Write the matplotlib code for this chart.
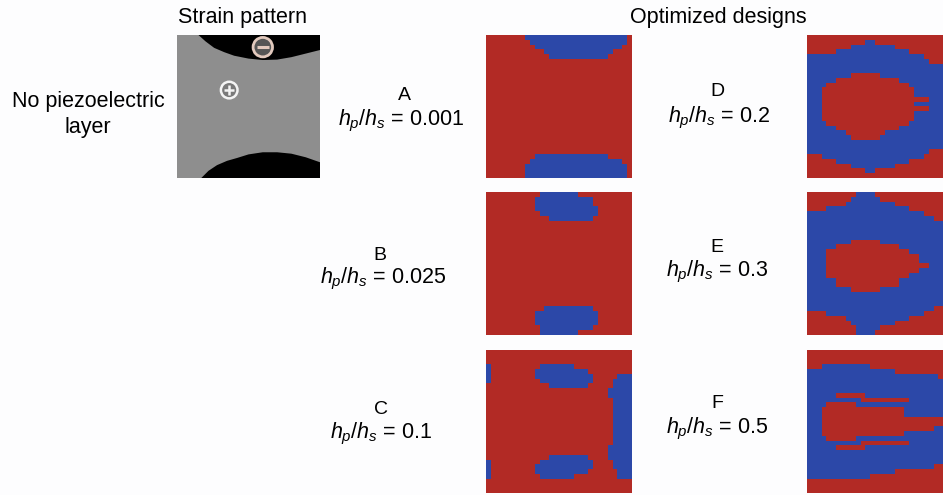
import numpy as np
import matplotlib
matplotlib.use("Agg")
import matplotlib.pyplot as plt
from matplotlib.colors import ListedColormap
from matplotlib.patches import Circle, Polygon

plt.rcParams["font.family"] = ["Liberation Sans", "DejaVu Sans"]
plt.rcParams["mathtext.fontset"] = "custom"
plt.rcParams["mathtext.rm"] = "Liberation Sans"
plt.rcParams["mathtext.it"] = "Liberation Sans:italic"

W, H = 943, 495
BG = "#fdfdfe"
RED = "#b22a25"
BLUE = "#2c48a8"
GREY = "#8e8e8e"

N_CELLS = 30

# Design labels and thickness ratios
letters = ["A", "B", "C", "D", "E", "F"]
ratios = ["0.001", "0.025", "0.1", "0.2", "0.3", "0.5"]

# Cell rectangles (row0, row1, col0, col1) painted blue, then red, over a red field
A_BLUE = [(0, 0, 8, 28), (1, 1, 9, 28), (2, 2, 10, 27), (3, 3, 12, 25), (4, 4, 13, 24),
          (25, 25, 10, 24), (26, 26, 9, 27), (27, 29, 8, 28)]
A_RED = []

B_BLUE = [(0, 0, 11, 18), (1, 2, 10, 21), (3, 3, 10, 22), (4, 4, 11, 22), (5, 5, 13, 21),
          (24, 24, 12, 21), (25, 27, 10, 22), (28, 28, 11, 21), (29, 29, 11, 18)]
B_RED = []

C_BLUE = [(3, 6, 0, 0), (23, 26, 0, 0),
          (3, 3, 11, 17), (4, 4, 10, 20), (5, 5, 10, 21), (6, 6, 11, 21), (7, 7, 13, 20),
          (22, 22, 13, 20), (23, 23, 11, 21), (24, 24, 10, 21), (25, 25, 10, 20), (26, 26, 11, 17),
          (5, 5, 27, 29), (6, 7, 26, 29), (8, 9, 25, 29), (10, 19, 26, 29),
          (20, 22, 25, 29), (23, 24, 26, 29), (25, 26, 27, 29)]
C_RED = []

D_BLUE = [(1, 1, 12, 13), (2, 2, 9, 17), (3, 3, 6, 20), (4, 4, 0, 23), (5, 5, 0, 24),
          (6, 23, 0, 29), (24, 24, 0, 24), (25, 25, 3, 23), (26, 26, 6, 20),
          (27, 27, 9, 17), (28, 28, 12, 13)]
D_RED = [(8, 8, 9, 14), (9, 9, 6, 18), (10, 10, 4, 20), (11, 12, 3, 21), (13, 13, 3, 24),
         (14, 14, 3, 21), (15, 15, 3, 24), (16, 17, 3, 21), (18, 18, 4, 20), (19, 19, 6, 18),
         (20, 20, 8, 15), (21, 21, 9, 14)]

E_BLUE = [(0, 0, 10, 13), (1, 1, 9, 14), (2, 2, 8, 17), (3, 3, 4, 20), (4, 4, 0, 23),
          (5, 5, 0, 25), (6, 23, 0, 29), (24, 24, 0, 25), (25, 25, 4, 23), (26, 26, 8, 20),
          (27, 27, 9, 17), (28, 28, 10, 14), (29, 29, 10, 13)]
E_RED = [(10, 10, 9, 14), (11, 11, 6, 18), (12, 12, 4, 20), (13, 14, 4, 22), (15, 15, 4, 24),
         (16, 16, 4, 22), (17, 17, 4, 20), (18, 19, 6, 18), (20, 20, 9, 14)]

F_BLUE = [(3, 3, 3, 12), (4, 4, 0, 17), (5, 5, 0, 26), (6, 23, 0, 29), (24, 24, 0, 25),
          (25, 25, 0, 17), (26, 26, 0, 12)]
F_RED = [(9, 9, 6, 11), (10, 10, 11, 20), (11, 11, 4, 9), (12, 13, 3, 19), (14, 15, 3, 27),
         (16, 16, 3, 25), (17, 17, 3, 19), (18, 18, 4, 9), (19, 19, 11, 20), (20, 20, 6, 11)]

designs = [(A_BLUE, A_RED), (B_BLUE, B_RED), (C_BLUE, C_RED),
           (D_BLUE, D_RED), (E_BLUE, E_RED), (F_BLUE, F_RED)]

# Strain-pattern boundaries (fraction of panel width / height, y downward)
top_dark_x = [0.15, 0.20, 0.26, 0.33, 0.40, 0.50, 0.60, 0.70, 0.80, 0.90, 1.00]
top_dark_y = [0.00, 0.045, 0.09, 0.12, 0.145, 0.165, 0.175, 0.172, 0.155, 0.13, 0.105]
bot_dark_x = [0.17, 0.22, 0.28, 0.35, 0.42, 0.50, 0.60, 0.70, 0.80, 0.90, 1.00]
bot_dark_y = [1.00, 0.95, 0.91, 0.88, 0.86, 0.835, 0.82, 0.82, 0.83, 0.855, 0.89]


def px_axes(fig, x0, y0, x1, y1):
    ax = fig.add_axes([x0 / W, 1 - y1 / H, (x1 - x0) / W, (y1 - y0) / H])
    ax.set_axis_off()
    return ax


def paint(blue_rects, red_rects):
    grid = np.zeros((N_CELLS, N_CELLS))
    for r0, r1, c0, c1 in blue_rects:
        grid[r0:r1 + 1, c0:c1 + 1] = 1
    for r0, r1, c0, c1 in red_rects:
        grid[r0:r1 + 1, c0:c1 + 1] = 0
    return grid


fig = plt.figure(figsize=(W / 100, H / 100), dpi=100, facecolor=BG)

# Headers and row label
fig.text(243 / W, 1 - 18 / H, "Strain pattern", ha="center", va="center", fontsize=15.5)
fig.text(718 / W, 1 - 17 / H, "Optimized designs", ha="center", va="center", fontsize=15.5)
fig.text(88 / W, 1 - 102 / H, "No piezoelectric", ha="center", va="center", fontsize=15.5)
fig.text(88 / W, 1 - 128 / H, "layer", ha="center", va="center", fontsize=15.5)

# Strain pattern panel
ax = px_axes(fig, 177, 35, 320, 178)
ax.set_xlim(0, 1)
ax.set_ylim(1, 0)
ax.add_patch(Polygon([[0, 0], [1, 0], [1, 1], [0, 1]], closed=True, facecolor=GREY, edgecolor="none"))
ax.add_patch(Polygon(list(zip(top_dark_x, top_dark_y)) + [[1, 0]], closed=True,
                     facecolor="black", edgecolor="none"))
ax.add_patch(Polygon(list(zip(bot_dark_x, bot_dark_y)) + [[1, 1]], closed=True,
                     facecolor="black", edgecolor="none"))
ax.add_patch(Circle((0.60, 0.085), 0.068, facecolor="#555555", edgecolor="#e2c9bd", lw=2))
ax.plot([0.56, 0.64], [0.085, 0.085], color="#e2c9bd", lw=2.2, solid_capstyle="butt")
ax.add_patch(Circle((0.365, 0.385), 0.058, facecolor="#7a7a7a", edgecolor="#f4f4f4", lw=1.8))
ax.plot([0.33, 0.40], [0.385, 0.385], color="#f4f4f4", lw=1.8, solid_capstyle="butt")
ax.plot([0.365, 0.365], [0.35, 0.42], color="#f4f4f4", lw=1.8, solid_capstyle="butt")

# Optimised design grids
cmap = ListedColormap([RED, BLUE])
col_x = [(486, 632), (807, 953)]
row_y = [(35, 178), (192, 335), (350, 493)]
label_x = [(404, 401), (380, 383), (381, 381), (717, 719), (717, 717), (717, 717)]
label_y = [(95, 121), (255, 279), (410, 434), (91, 118), (248, 272), (404, 429)]

for i, (blue_rects, red_rects) in enumerate(designs):
    c, r = divmod(i, 3)
    x0, x1 = col_x[c]
    y0, y1 = row_y[r]
    ax = px_axes(fig, x0, y0, x1, y1)
    ax.imshow(paint(blue_rects, red_rects), cmap=cmap, vmin=0, vmax=1,
              interpolation="nearest", aspect="auto")
    lx, fx = label_x[i]
    ly, fy = label_y[i]
    fig.text(lx / W, 1 - ly / H, letters[i], ha="center", va="center", fontsize=14)
    fig.text(fx / W, 1 - fy / H, r"$h_p/h_s$ = " + ratios[i], ha="center", va="center",
             fontsize=15.5)

fig.savefig("out.png", dpi=100, facecolor=BG)
